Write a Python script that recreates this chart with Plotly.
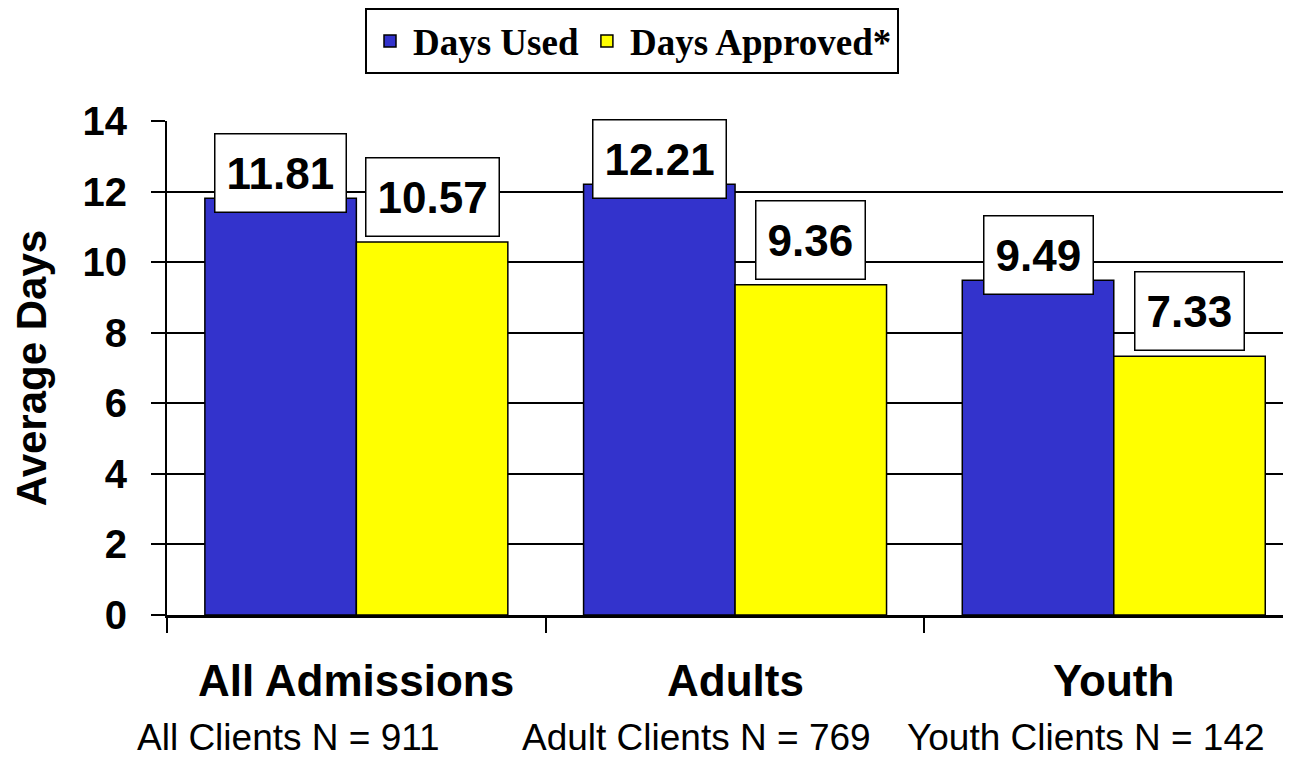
import plotly.graph_objects as go

categories = ["All Admissions", "Adults", "Youth"]
client_labels = ["All Clients N = 911", "Adult Clients N = 769", "Youth Clients N = 142"]
days_used = [11.81, 12.21, 9.49]
days_approved = [10.57, 9.36, 7.33]
y_ticks = [0, 2, 4, 6, 8, 10, 12, 14]

BLUE = "#3333CC"
YELLOW = "#FFFF00"
client_shift = [-68, -39, -28]  # text offset of the N-labels (px)
ARIAL = "Arial, Liberation Sans"

fig = go.Figure()
fig.add_trace(go.Bar(name="Days Used", x=categories, y=days_used,
                     marker=dict(color=BLUE, line=dict(color="black", width=1.5))))
fig.add_trace(go.Bar(name="Days Approved*", x=categories, y=days_approved,
                     marker=dict(color=YELLOW, line=dict(color="black", width=1.5))))

annotations = []
for i, cat in enumerate(categories):
    for vals, off, ysh in ((days_used, -0.2, 25), (days_approved, 0.2, 45)):
        annotations.append(dict(
            x=i + off, y=vals[i], xref="x", yref="y", text=f"<b>{vals[i]:.2f}</b>",
            showarrow=False, yshift=ysh, xanchor="center", yanchor="middle",
            height=55, valign="middle",
            font=dict(family=ARIAL, size=44, color="black"),
            bgcolor="white", bordercolor="black", borderwidth=1.5, borderpad=11,
        ))
    annotations.append(dict(
        x=i, y=-0.1316, xref="x", yref="paper", text=f"<b>{cat}</b>", showarrow=False,
        xanchor="center", yanchor="middle",
        font=dict(family=ARIAL, size=44, color="black")))
    annotations.append(dict(
        x=i, y=-0.2874, xref="x", yref="paper", text=client_labels[i], showarrow=False,
        xanchor="center", yanchor="bottom", xshift=client_shift[i], yshift=-3,
        font=dict(family=ARIAL, size=37, color="black")))

fig.update_layout(
    width=1283, height=749,
    margin=dict(l=159, r=0, t=113, b=142, autoexpand=False),
    paper_bgcolor="white", plot_bgcolor="white",
    barmode="group", bargap=0.2, bargroupgap=0,
    font=dict(family=ARIAL, color="black"),
    legend=dict(orientation="h", x=0.4137, xanchor="center", y=1.161, yanchor="middle",
                bordercolor="black", borderwidth=2, bgcolor="white",
                font=dict(family="Liberation Serif, Times New Roman", size=37,
                          color="black", weight="bold"),
                itemwidth=36, traceorder="normal"),
    annotations=annotations,
    showlegend=True,
)
fig.update_xaxes(type="category", range=[-0.5, 2.468], showticklabels=False,
                 ticks="outside", tickson="boundaries", ticklen=15, tickwidth=2,
                 tickcolor="black", showline=True, linecolor="black", linewidth=3,
                 showgrid=False, automargin=False)
fig.update_yaxes(range=[0, 14], tickvals=y_ticks, ticks="outside", ticklen=14,
                 tickwidth=2, tickcolor="black", showline=True, linecolor="black",
                 linewidth=2, showgrid=True, gridcolor="black", gridwidth=2,
                 zeroline=False, ticklabelstandoff=16, automargin=False,
                 tickfont=dict(family=ARIAL, size=40, color="black", weight="bold"),
                 title=dict(text="<b>Average Days</b>", standoff=26,
                            font=dict(family=ARIAL, size=42, color="black")))

fig.write_html("out.html")
